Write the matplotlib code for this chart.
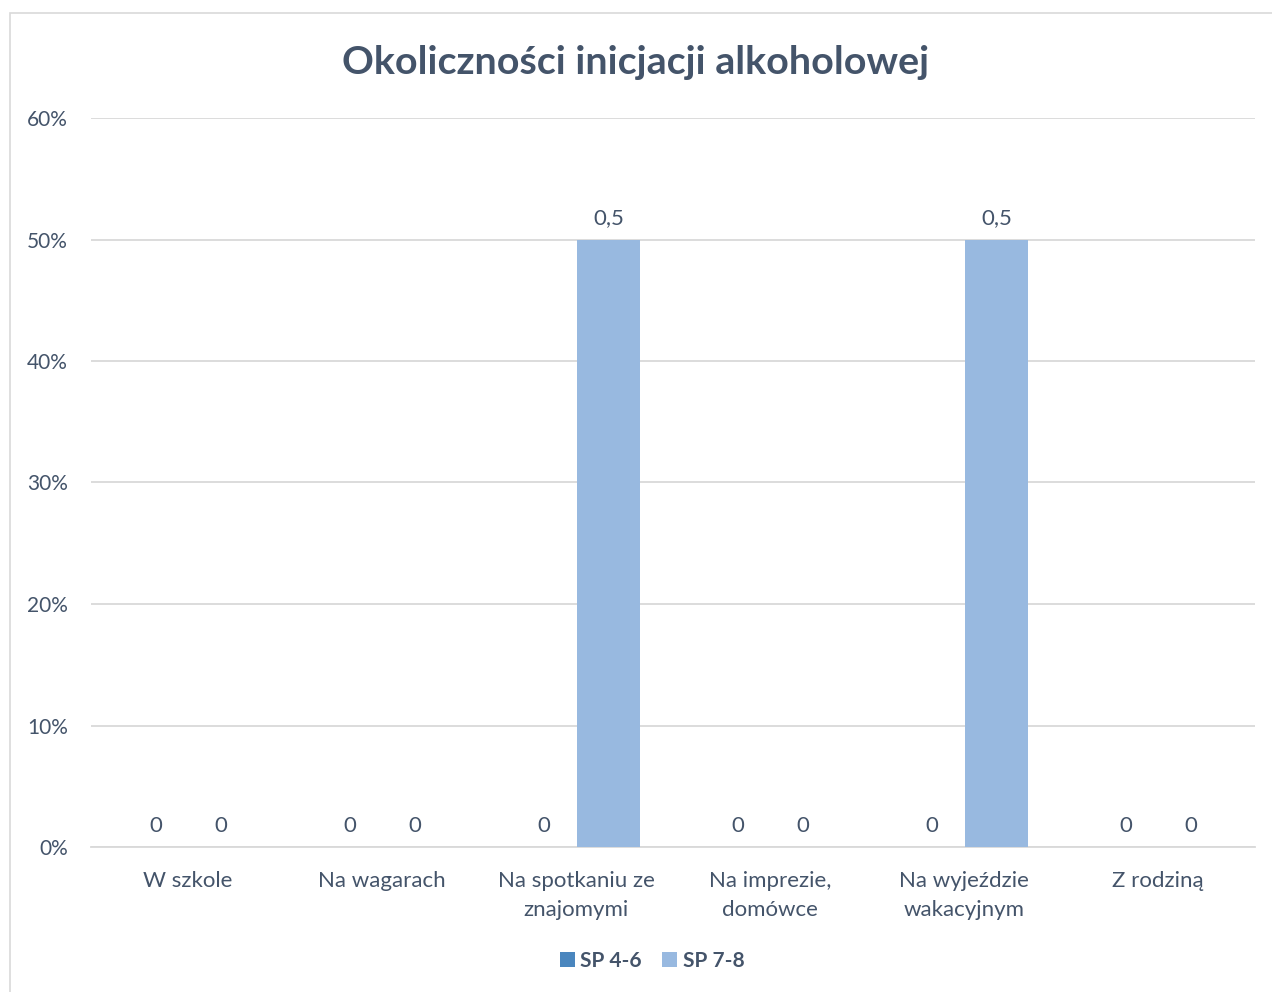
import matplotlib.pyplot as plt
import matplotlib.patches as mpatches
import numpy as np
from matplotlib.ticker import FuncFormatter

categories = ["W szkole", "Na wagarach", "Na spotkaniu ze\nznajomymi",
              "Na imprezie,\ndomówce", "Na wyjeździe\nwakacyjnym", "Z rodziną"]
series_names = ["SP 4-6", "SP 7-8"]
sp46 = [0, 0, 0, 0, 0, 0]
sp78 = [0, 0, 0.5, 0, 0.5, 0]

text_color = "#44546A"
grid_color = "#D9D9D9"
colors = ["#4A86BE", "#98B9E0"]
font = ["Lato", "DejaVu Sans"]
plt.rcParams['font.family'] = font

fig = plt.figure(figsize=(12.72, 9.92), dpi=100)
ax = fig.add_axes([91 / 1272, 1 - 847 / 992, (1255 - 91) / 1272, (847 - 118) / 992])

# chart border (cropped at right/bottom like the original)
fig.patches.append(mpatches.Rectangle((10 / 1272, -0.01), 1.1, 1 - 13 / 992 + 0.01,
                                      transform=fig.transFigure, fill=False,
                                      edgecolor=grid_color, linewidth=1.2))

x = np.arange(len(categories))
w = 0.325
for i, (vals, name) in enumerate(zip([sp46, sp78], series_names)):
    pos = x + (i - 0.5) * 0.335
    bars = ax.bar(pos, vals, width=w, color=colors[i], label=name, zorder=3)
    for p, v in zip(pos, vals):
        lbl = f"{v:g}".replace(".", ",")
        ax.annotate(lbl, (p, v), xytext=(0, 8), textcoords="offset points",
                    ha="center", va="bottom", fontsize=16, color=text_color)

ax.set_xlim(-0.5, len(categories) - 0.5)
ax.set_ylim(0, 0.6)
ax.set_yticks(np.arange(0, 0.61, 0.1))
ax.yaxis.set_major_formatter(FuncFormatter(lambda v, _: f"{v * 100:.0f}%"))
ax.grid(axis="y", color=grid_color, linewidth=1.3, zorder=0)
for s in ["top", "right", "left"]:
    ax.spines[s].set_visible(False)
ax.spines["bottom"].set_color(grid_color)
ax.spines["bottom"].set_linewidth(1.3)
ax.tick_params(axis="both", length=0, labelcolor=text_color)
ax.tick_params(axis="y", pad=16.5, labelsize=15)
ax.tick_params(axis="x", pad=17, labelsize=16)
ax.set_xticks(x)
ax.set_xticklabels(categories, linespacing=1.6)

fig.text(0.5, 1 - 62 / 992, "Okoliczności inicjacji alkoholowej", ha="center", va="center",
         fontsize=28.4, fontweight="bold", color=text_color)

leg = fig.legend(loc="center", bbox_to_anchor=(652 / 1272, 1 - 961 / 992), ncol=2, frameon=False,
                 handlelength=0.75, handleheight=0.75, handletextpad=0.25, columnspacing=0.95,
                 prop={"size": 15, "weight": "bold"})
for t in leg.get_texts():
    t.set_color(text_color)

fig.savefig("out.png", dpi=100)
